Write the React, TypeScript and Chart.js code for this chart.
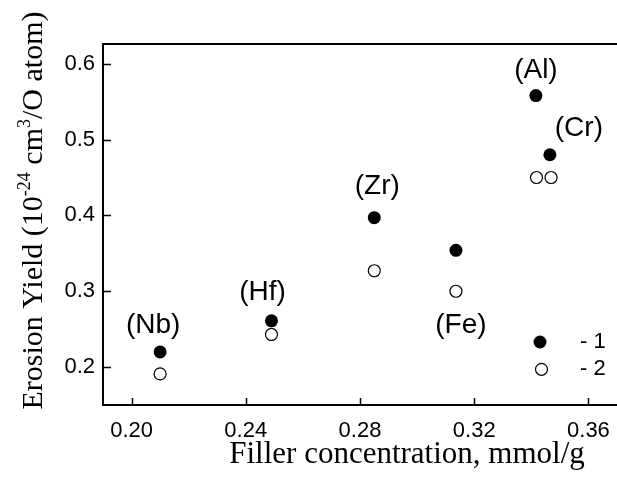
import { useEffect, useRef } from 'react';
import { Chart, registerables } from 'chart.js';

Chart.register(...registerables);

// ---- data ----
const elementLabels = ['(Nb)', '(Hf)', '(Zr)', '(Fe)', '(Al)', '(Cr)'];
const conc1 = [0.210, 0.249, 0.285, 0.3136, 0.3416, 0.3465];
const yield1 = [0.220, 0.261, 0.397, 0.354, 0.558, 0.480];
const conc2 = [0.210, 0.249, 0.285, 0.3136, 0.3418, 0.3469];
const yield2 = [0.191, 0.243, 0.327, 0.300, 0.450, 0.450];
const xTickValues = [0.20, 0.24, 0.28, 0.32, 0.36];
const yTickValues = [0.2, 0.3, 0.4, 0.5, 0.6];
const seriesNames = ['- 1', '- 2'];
const xTitle = 'Filler concentration, mmol/g';
const yTitleParts = [
  { t: 'Erosion Yield (10', sup: false },
  { t: '-24', sup: true },
  { t: ' cm', sup: false },
  { t: '3', sup: true },
  { t: '/O atom)', sup: false },
];

// ---- styling (positions/offsets, not data) ----
const labelSeries = [0, 0, 0, 1, 0, 0];
const labelOffsets = [[-7, -26], [-9, -28], [3, -31], [5, 35], [0, -25], [29, -25.5]];
const SANS = 'Arial, "Liberation Sans", sans-serif';
const SERIF = '"Times New Roman", "Liberation Serif", serif';

const decorPlugin = {
  id: 'decor',
  afterDraw(chart: any) {
    const { ctx, chartArea: a, scales } = chart;
    ctx.save();
    // top frame line
    ctx.strokeStyle = '#000';
    ctx.lineWidth = 2;
    ctx.beginPath();
    ctx.moveTo(a.left - 1, a.top);
    ctx.lineTo(chart.width, a.top);
    ctx.stroke();
    // inward ticks
    ctx.lineWidth = 1.5;
    ctx.beginPath();
    xTickValues.forEach((v) => {
      const px = Math.round(scales.x.getPixelForValue(v)) + 0.5;
      ctx.moveTo(px, a.bottom);
      ctx.lineTo(px, a.bottom - 7);
    });
    yTickValues.forEach((v) => {
      const py = Math.round(scales.y.getPixelForValue(v)) + 0.5;
      ctx.moveTo(a.left, py);
      ctx.lineTo(a.left + 8, py);
    });
    ctx.stroke();

    // element labels
    ctx.fillStyle = '#000';
    ctx.font = `28px ${SANS}`;
    ctx.textAlign = 'center';
    ctx.textBaseline = 'alphabetic';
    elementLabels.forEach((lab, i) => {
      const el = chart.getDatasetMeta(labelSeries[i]).data[i];
      const [dx, dy] = labelOffsets[i];
      ctx.fillText(lab, el.x + dx, el.y + dy + 7);
    });

    // legend
    const lx = a.right - 77;
    const ly1 = a.bottom - 63;
    const ly2 = a.bottom - 35.7;
    ctx.beginPath();
    ctx.arc(lx, ly1, 6.5, 0, Math.PI * 2);
    ctx.fillStyle = '#000';
    ctx.fill();
    ctx.beginPath();
    ctx.arc(lx + 1.5, ly2, 6, 0, Math.PI * 2);
    ctx.fillStyle = '#fff';
    ctx.fill();
    ctx.lineWidth = 1.2;
    ctx.strokeStyle = '#000';
    ctx.stroke();
    ctx.fillStyle = '#000';
    ctx.font = `22px ${SANS}`;
    ctx.textAlign = 'left';
    ctx.textBaseline = 'middle';
    ctx.fillText(seriesNames[0], a.right - 37, ly1);
    ctx.fillText(seriesNames[1], a.right - 37, ly2);

    // x title
    ctx.font = `31px ${SERIF}`;
    ctx.textAlign = 'center';
    ctx.textBaseline = 'alphabetic';
    ctx.fillText(xTitle, 407, 463);

    // y title (rotated, with superscripts)
    const mainFont = `30px ${SERIF}`;
    const supFont = `18px ${SERIF}`;
    let total = 0;
    const widths = yTitleParts.map((p) => {
      ctx.font = p.sup ? supFont : mainFont;
      const w = ctx.measureText(p.t).width;
      total += w;
      return w;
    });
    ctx.translate(41.7, 210.5);
    ctx.rotate(-Math.PI / 2);
    ctx.textAlign = 'left';
    let x = -total / 2;
    yTitleParts.forEach((p, i) => {
      ctx.font = p.sup ? supFont : mainFont;
      ctx.fillText(p.t, x, p.sup ? -11.5 : 0);
      x += widths[i];
    });
    ctx.restore();
  },
};

export default function App() {
  const ref = useRef<HTMLCanvasElement>(null);
  useEffect(() => {
    if (!ref.current) return;
    const chart = new Chart(ref.current, {
      type: 'scatter',
      data: {
        datasets: [
          {
            label: seriesNames[0],
            data: conc1.map((x, i) => ({ x, y: yield1[i] })),
            pointRadius: 6.5,
            pointHoverRadius: 6.5,
            backgroundColor: '#000',
            borderColor: '#000',
            pointBorderWidth: 0,
          },
          {
            label: seriesNames[1],
            data: conc2.map((x, i) => ({ x, y: yield2[i] })),
            pointRadius: 6,
            pointHoverRadius: 6,
            backgroundColor: '#fff',
            borderColor: '#000',
            pointBorderWidth: 1.2,
          },
        ],
      },
      options: {
        responsive: false,
        animation: false,
        layout: { autoPadding: false, padding: { top: 44, left: 0, right: 0, bottom: 0 } },
        plugins: { legend: { display: false }, tooltip: { enabled: false } },
        scales: {
          x: {
            type: 'linear',
            min: 0.19,
            max: 0.37,
            grid: { display: false, drawTicks: false },
            border: { display: true, color: '#000', width: 2 },
            afterBuildTicks: (s: any) => {
              s.ticks = xTickValues.map((value) => ({ value }));
            },
            afterFit: (s: any) => {
              s.height = 72;
              s.paddingLeft = 0;
              s.paddingRight = 0;
            },
            ticks: {
              color: '#000',
              font: { family: SANS, size: 22 },
              padding: 13,
              maxRotation: 0,
              callback: (v: any) => Number(v).toFixed(2),
            },
          },
          y: {
            type: 'linear',
            min: 0.15,
            max: 0.626,
            grid: { display: false, drawTicks: false },
            border: { display: true, color: '#000', width: 2 },
            afterBuildTicks: (s: any) => {
              s.ticks = yTickValues.map((value) => ({ value }));
            },
            afterFit: (s: any) => {
              s.width = 103;
              s.paddingTop = 0;
              s.paddingBottom = 0;
            },
            ticks: {
              color: '#000',
              font: { family: SANS, size: 22 },
              padding: 8,
              callback: (v: any) => Number(v).toFixed(1),
            },
          },
        },
      },
      plugins: [decorPlugin],
    });
    return () => chart.destroy();
  }, []);
  return (
    <div style={{ position: 'fixed', left: 0, top: 0, width: 617, height: 477, background: '#fff' }}>
      <canvas ref={ref} width={617} height={477} />
    </div>
  );
}
